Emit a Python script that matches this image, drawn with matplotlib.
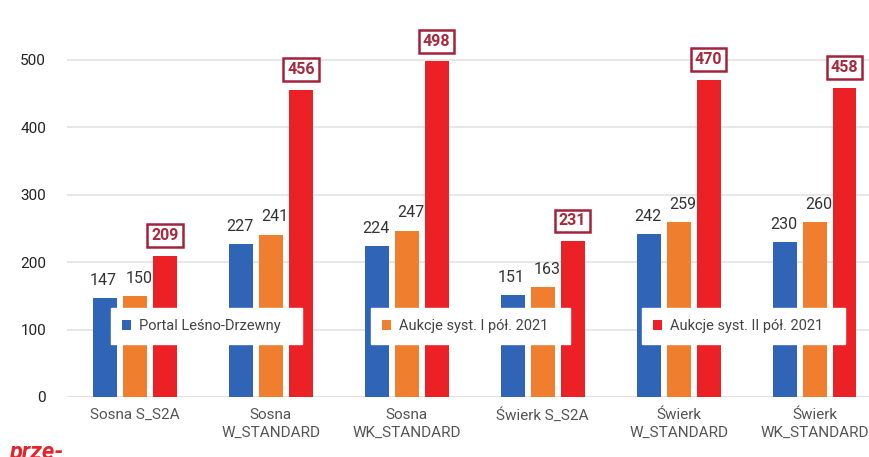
import matplotlib
matplotlib.use('Agg')
import matplotlib.pyplot as plt
from matplotlib.patches import Patch
import numpy as np

# dane
kategorie = ['Sosna S_S2A', 'Sosna\nW_STANDARD', 'Sosna\nWK_STANDARD',
             'Świerk S_S2A', 'Świerk\nW_STANDARD', 'Świerk\nWK_STANDARD']
portal = [147, 227, 224, 151, 242, 230]
aukcje_1 = [150, 241, 247, 163, 259, 260]
aukcje_2 = [209, 456, 498, 231, 470, 458]
serie = ['Portal Leśno-Drzewny', 'Aukcje syst. I pół. 2021', 'Aukcje syst. II pół. 2021']
y_ticks = [0, 100, 200, 300, 400, 500]

kolory = ['#2f64b7', '#ef7f2f', '#ec2126']

plt.rcParams['font.family'] = ['Roboto', 'DejaVu Sans']

fig = plt.figure(figsize=(8.69, 4.57), dpi=100)
# os: x od 67 px do 869 px, y od 397 px (0) do gory
ax = fig.add_axes([67/869, (457-397)/457, (869-67)/869, 397/457])

x = np.arange(len(kategorie))
szer = 0.176
krok = 0.22

ax.bar(x - krok, portal, szer, color=kolory[0], zorder=2)
ax.bar(x, aukcje_1, szer, color=kolory[1], zorder=2)
ax.bar(x + krok, aukcje_2, szer, color=kolory[2], zorder=2)

ax.set_xlim(-0.5, 5.4)
ax.set_ylim(0, 589)

for i in range(len(kategorie)):
    ax.text(x[i] - krok - 0.01, portal[i] + 15, str(portal[i]), ha='center', va='bottom',
            fontsize=11.5, color='#333333')
    ax.text(x[i] + 0.03, aukcje_1[i] + 15, str(aukcje_1[i]), ha='center', va='bottom',
            fontsize=11.5, color='#333333')
    ax.text(x[i] + krok, aukcje_2[i] + 19, str(aukcje_2[i]), ha='center', va='bottom',
            fontsize=11.5, color='#a8283c', fontweight='bold',
            bbox=dict(boxstyle='square,pad=0.25', facecolor='white',
                      edgecolor='#a3233a', linewidth=1.8))

ax.set_yticks(y_ticks)
ax.set_yticklabels([str(v) for v in y_ticks], fontsize=11, color='#222222')
ax.set_xticks(x)
ax.set_xticklabels(kategorie, fontsize=11, color='#555555', linespacing=1.3)
ax.tick_params(axis='both', length=0)
ax.tick_params(axis='y', pad=15)
ax.tick_params(axis='x', pad=8)

ax.grid(axis='y', color='#e3e3e3', linewidth=1.2, zorder=0)
ax.axhline(0, color='#d6d6d6', linewidth=2, zorder=1)
for s in ax.spines.values():
    s.set_visible(False)

# trzy osobne legendy w bialych ramkach
pozycje = [111, 371, 642]
for n, x0 in enumerate(pozycje):
    leg = fig.legend(handles=[Patch(facecolor=kolory[n], edgecolor='none')],
                     labels=[serie[n] + '   '], loc='center left',
                     bbox_to_anchor=(x0/869, 1 - 326/457),
                     frameon=True, fancybox=False, framealpha=1,
                     handlelength=0.65, handleheight=0.65, handletextpad=0.5,
                     borderpad=0.75, borderaxespad=0, fontsize=10.5)
    leg.get_frame().set_edgecolor('white')
    leg.get_frame().set_facecolor('white')
    for t in leg.get_texts():
        t.set_color('#444444')

fig.text(10/869, 1 - 452/457, 'prze-', fontsize=17, color='#e4232b',
         fontweight='bold', style='italic', va='center', ha='left')

fig.savefig('out.png', dpi=100, facecolor='white')
